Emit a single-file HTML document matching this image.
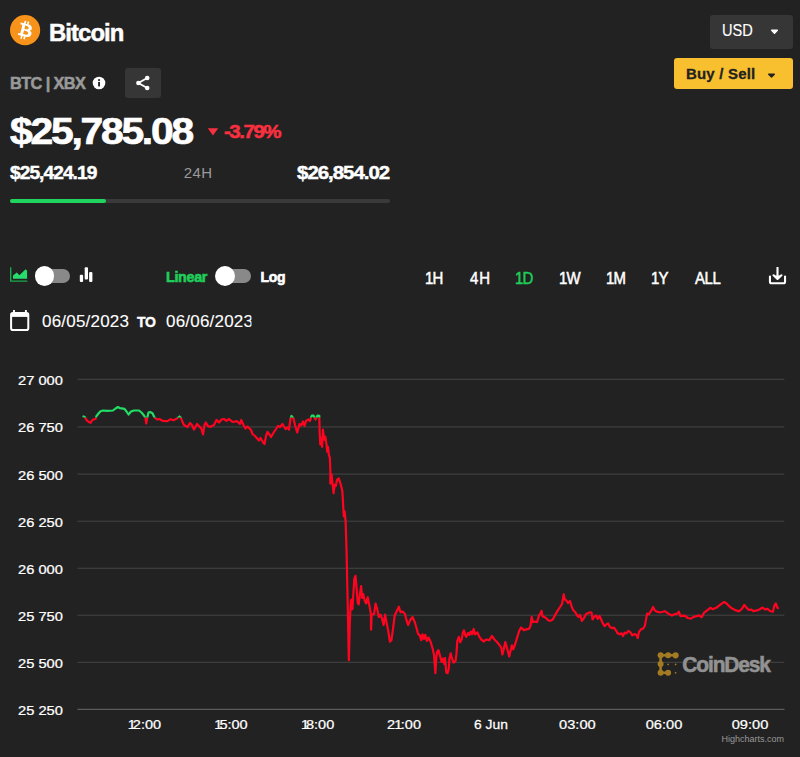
<!DOCTYPE html>
<html><head><meta charset="utf-8"><title>Bitcoin</title>
<style>
html,body{margin:0;padding:0;background:#222;}
body{width:800px;height:757px;position:relative;overflow:hidden;font-family:"Liberation Sans",sans-serif;color:#fff;}
.a{position:absolute;white-space:nowrap;line-height:1;}
.b{font-weight:bold;}
#title{left:48.5px;top:21.5px;font-size:23.5px;letter-spacing:-0.9px;-webkit-text-stroke:0.5px #fff;transform-origin:0 0;transform:scaleX(1.015);}
#sym{left:9.5px;top:75.5px;font-size:16px;color:#999;letter-spacing:-0.6px;-webkit-text-stroke:0.5px #999;transform-origin:0 0;transform:scaleX(1.02);}
#share{left:125px;top:67.7px;width:36.2px;height:30.5px;background:#363636;border-radius:3px;}
#price{left:9.5px;top:114.1px;font-size:36.5px;letter-spacing:-2px;-webkit-text-stroke:0.7px #fff;transform-origin:0 0;transform:scaleX(1.118);}
#pct{left:224px;top:122.5px;font-size:18px;color:#f9303f;letter-spacing:-1.3px;-webkit-text-stroke:0.5px #f9303f;transform-origin:0 0;transform:scaleX(1.14);}
#low{left:10px;top:163.8px;font-size:18px;letter-spacing:-0.9px;-webkit-text-stroke:0.45px #fff;transform-origin:0 0;transform:scaleX(1.065);}
#high{right:411px;top:163.8px;font-size:18px;letter-spacing:-0.9px;-webkit-text-stroke:0.45px #fff;transform-origin:100% 0;transform:scaleX(1.135);}
#h24{left:183.7px;top:165px;font-size:15px;color:#999;letter-spacing:0.4px;}
#track{left:10px;top:198.8px;width:380px;height:4px;border-radius:2px;background:#3a3a3a;}
#fill{left:10px;top:198.7px;width:96px;height:4.2px;border-radius:2.1px;background:#20d45e;}
#usd{left:710.4px;top:14.5px;width:82.9px;height:34.1px;background:#363636;border-radius:3px;}
#usd span{left:11.6px;top:7.7px;font-size:16.5px;-webkit-text-stroke:0.15px #fff;transform-origin:0 0;transform:scaleX(0.885);}
#buy{left:674px;top:58px;width:119px;height:31px;background:#f8bf2e;border-radius:3px;color:#222;}
#buy span{left:11.9px;top:8px;font-size:15px;letter-spacing:0.2px;-webkit-text-stroke:0.3px #222;}
.tg{height:13.6px;border-radius:7px;background:#898989;}
.kn{width:19.9px;height:19.9px;border-radius:10px;background:#fff;}
#lin{left:166px;top:270.2px;font-size:14px;color:#1fce5a;letter-spacing:-0.3px;-webkit-text-stroke:0.6px #1fce5a;transform-origin:0 0;transform:scaleX(1.02);}
#log{left:260.6px;top:270.2px;font-size:14px;letter-spacing:-0.4px;-webkit-text-stroke:0.6px #fff;}
.rg{top:270.7px;font-size:16px;letter-spacing:-1px;-webkit-text-stroke:0.5px currentColor;transform-origin:0 0;transform:scaleX(0.935);}
.dt{top:313px;font-size:16.5px;letter-spacing:0.2px;-webkit-text-stroke:0.1px #fff;transform-origin:0 0;transform:scaleX(1.03);}
#to{left:137px;top:314.5px;font-size:14px;letter-spacing:-0.2px;-webkit-text-stroke:0.4px #fff;}
</style></head><body>
<svg class="a" style="left:10.4px;top:15.4px" width="30.2" height="30.2" viewBox="0 0 32 32"><circle cx="16" cy="16" r="16" fill="#f7931a"/><path fill="#fff" d="M23.19 14.02c.31-2.1-1.28-3.22-3.47-3.97l.71-2.85-1.73-.43-.69 2.77c-.46-.11-.92-.22-1.39-.32l.7-2.79-1.73-.43-.71 2.84c-.38-.09-.75-.17-1.1-.26l-2.39-.6-.46 1.85s1.28.29 1.26.31c.7.18.83.64.8 1.01l-.81 3.24c.05.01.11.03.18.06l-.18-.05-1.13 4.55c-.09.21-.31.53-.79.41.02.03-1.26-.31-1.26-.31l-.86 1.98 2.26.56c.42.11.83.22 1.23.32l-.72 2.88 1.73.43.71-2.85c.47.13.93.25 1.38.36l-.71 2.84 1.73.43.72-2.87c2.95.56 5.17.33 6.1-2.34.75-2.15-.04-3.39-1.59-4.2 1.13-.26 1.98-1 2.21-2.54zm-3.96 5.55c-.53 2.15-4.15.99-5.32.7l.95-3.81c1.17.29 4.93.87 4.37 3.11zm.54-5.58c-.49 1.95-3.5.96-4.47.72l.86-3.45c.97.24 4.12.69 3.61 2.73z"/></svg>
<div id="title" class="a b">Bitcoin</div>
<div id="sym" class="a b">BTC | XBX</div>
<svg class="a" style="left:92px;top:76px" width="14" height="14" viewBox="0 0 14 14"><circle cx="7" cy="7" r="6.3" fill="#fff"/><rect x="6.1" y="6" width="1.9" height="4.4" fill="#222"/><circle cx="7.05" cy="4.1" r="1.1" fill="#222"/></svg>
<div id="share" class="a"><svg class="a" style="left:10px;top:7px" width="16" height="16" viewBox="0 0 16 16"><g fill="#fff"><circle cx="12.2" cy="3" r="2.3"/><circle cx="3.4" cy="8" r="2.3"/><circle cx="12.2" cy="13" r="2.3"/></g><path d="M12.2 3 3.4 8 12.2 13" stroke="#fff" stroke-width="1.8" fill="none"/></svg></div>
<div id="price" class="a b">$25,785.08</div>
<svg class="a" style="left:207px;top:128px" width="12" height="8" viewBox="0 0 12 8"><path d="M0.8 0.3h10.4L6 7.6z" fill="#f9303f"/></svg>
<div id="pct" class="a b">-3.79%</div>
<div id="low" class="a b">$25,424.19</div>
<div id="h24" class="a">24H</div>
<div id="high" class="a b">$26,854.02</div>
<div id="track" class="a"></div><div id="fill" class="a"></div>
<div id="usd" class="a"><span class="a">USD</span><svg class="a" style="left:59.4px;top:14.9px" width="9" height="6" viewBox="0 0 9 6"><path d="M1.7 1.3h5.6L4.5 4.1z" fill="#fff" stroke="#fff" stroke-width="1.5" stroke-linejoin="round"/></svg></div>
<div id="buy" class="a"><span class="a b">Buy / Sell</span><svg class="a" style="left:92.5px;top:14.7px" width="9" height="6" viewBox="0 0 9 6"><path d="M1.7 1.2h5.6L4.5 4z" fill="#222" stroke="#222" stroke-width="1.4" stroke-linejoin="round"/></svg></div>

<svg class="a" style="left:9px;top:266px" width="20" height="17" viewBox="0 0 20 17"><path d="M1.7 1.2v13.9h16.6" stroke="#1aa84b" stroke-width="1.4" fill="none"/><path d="M4 12.8V9.4l3.8-2.8 2.6 2.6 6.2-5.9 1.5 1.4v8.1z" fill="#27dc6c"/></svg>
<div class="a tg" style="left:37px;top:269px;width:33px"></div><div class="a kn" style="left:34.5px;top:265.7px"></div>
<svg class="a" style="left:79px;top:266px" width="15" height="17" viewBox="0 0 15 17"><g fill="#fff"><rect x="0.8" y="8.8" width="3.3" height="7.1" rx="1"/><rect x="5.7" y="1.3" width="3.3" height="12.3" rx="1"/><rect x="10.1" y="6" width="3.3" height="9.9" rx="1"/></g></svg>
<div id="lin" class="a b">Linear</div>
<div class="a tg" style="left:218px;top:269px;width:33px"></div><div class="a kn" style="left:214.7px;top:265.7px"></div>
<div id="log" class="a b">Log</div>
<div class="a rg" style="left:425px">1H</div>
<div class="a rg" style="left:469.6px;letter-spacing:1px">4H</div>
<div class="a rg" style="left:514.8px;color:#1fce5a">1D</div>
<div class="a rg" style="left:559px">1W</div>
<div class="a rg" style="left:605.5px">1M</div>
<div class="a rg" style="left:650.5px">1Y</div>
<div class="a rg" style="left:695.2px;letter-spacing:-0.4px">ALL</div>
<svg class="a" style="left:768px;top:267px" width="19" height="19" viewBox="0 0 19 19"><path d="M9.5 0.4v10.6M5.6 8.3l3.9 3.6 3.9-3.6M1.95 9.6v5.2a1.5 1.5 0 0 0 1.5 1.5h12.1a1.5 1.5 0 0 0 1.5-1.5v-5.2" stroke="#fff" stroke-width="2.1" fill="none" stroke-linecap="round" stroke-linejoin="round"/><path d="M6 8.6h7L9.5 11.8z" fill="#fff"/></svg>
<svg class="a" style="left:9px;top:309px" width="22" height="23" viewBox="0 0 22 23"><rect x="2.1" y="4" width="17.2" height="17" rx="1.8" stroke="#fff" stroke-width="2" fill="none"/><path d="M5 1v4M16.9 1v4" stroke="#fff" stroke-width="1.9" fill="none"/><rect x="2.1" y="4" width="17.2" height="3.9" fill="#fff"/></svg>
<div class="a dt" style="left:42px">06/05/2023</div>
<div id="to" class="a b">TO</div>
<div class="a dt" style="left:165.5px;width:83.1px;overflow:hidden">06/06/2023</div>

<svg class="a" style="left:0;top:360px" width="800" height="397" viewBox="0 360 800 397">
<defs><clipPath id="up"><rect x="0" y="360" width="800" height="57.6"/></clipPath><clipPath id="dn"><rect x="0" y="417.6" width="800" height="340"/></clipPath></defs>
<g stroke="#454545" stroke-width="1">
<path d="M77.5 379.3H784.3M77.5 426.95H784.3M77.5 474.1H784.3M77.5 521.2H784.3M77.5 568.25H784.3M77.5 615.2H784.3M77.5 662.3H784.3"/></g>
<path d="M77.5 709.4H784.5" stroke="#5c5c5c" stroke-width="1.1"/>
<g font-family="Liberation Sans, sans-serif" font-size="13.2" fill="#fff" stroke="#fff" stroke-width="0.25" text-anchor="end" transform="translate(62.9 0) scale(1.11 1)">
<text x="0" y="384.75">27 000</text><text x="0" y="432.40">26 750</text><text x="0" y="479.55">26 500</text><text x="0" y="526.65">26 250</text><text x="0" y="573.70">26 000</text><text x="0" y="620.65">25 750</text><text x="0" y="667.75">25 500</text><text x="0" y="714.85">25 250</text></g>
<g font-family="Liberation Sans, sans-serif" font-size="13.2" fill="#fff" stroke="#fff" stroke-width="0.25" text-anchor="middle">
<text x="0" y="729.25" transform="translate(144.4 0) scale(1.1 1)" dx="0 -2.7 0 0 0">12:00</text><text x="0" y="729.25" transform="translate(231 0) scale(1.1 1)" dx="0 -2.7 0 0 0">15:00</text><text x="0" y="729.25" transform="translate(317.6 0) scale(1.1 1)" dx="0 -2.7 0 0 0">18:00</text><text x="0" y="729.25" transform="translate(404 0) scale(1.1 1)" dx="0 -0.7 -1.5 0 0">21:00</text><text x="0" y="729.25" transform="translate(491 0) scale(1.05 1)">6 Jun</text><text x="0" y="729.25" transform="translate(577.4 0) scale(1.11 1)">03:00</text><text x="0" y="729.25" transform="translate(664 0) scale(1.11 1)">06:00</text><text x="0" y="729.25" transform="translate(750 0) scale(1.11 1)">09:00</text></g>
<text x="784" y="742" font-family="Liberation Sans, sans-serif" font-size="9" fill="#999" text-anchor="end">Highcharts.com</text>
<g id="cd"><g fill="#a27b22" stroke="#a27b22">
<path d="M675.6 655.3H660.6V672.8H668.1" stroke-width="2.6" fill="none"/>
<g stroke="none"><circle cx="660.6" cy="655.3" r="3"/><circle cx="668.1" cy="655.3" r="3"/><circle cx="675.6" cy="655.3" r="3.1"/><circle cx="660.6" cy="664.1" r="3"/><circle cx="660.6" cy="672.8" r="3"/><circle cx="668.1" cy="672.8" r="3"/><circle cx="668.1" cy="664.4" r="0.9"/><circle cx="675.6" cy="664.4" r="0.9"/><circle cx="675.6" cy="672.8" r="0.9"/></g></g>
<text x="0" y="672" transform="translate(682.3 0) scale(0.93 1)" font-family="Liberation Sans, sans-serif" font-weight="bold" font-size="22.5" fill="#929292" stroke="#929292" stroke-width="0.6" letter-spacing="-1.2">CoinDesk</text></g>
<g fill="none" stroke-width="2.2" stroke-linejoin="round" stroke-linecap="round">
<path clip-path="url(#dn)" stroke="#ff0420" d="M83.5 416.5 L85 417.2 L86.5 420 L88.5 421.8 L90.5 422.8 L92 420.5 L93.5 419.3 L95.5 419 L96.5 416 L98.5 413.5 L100.5 411.2 L103 410.5 L107 410.8 L113 410.5 L115.5 408.5 L118 407 L120 408.2 L124.5 408.8 L126.5 411.5 L128.5 414.5 L131 411.5 L134 410.5 L139 410.5 L141.5 412.5 L144 415.5 L145.5 418 L146.2 423.5 L147.2 418 L148.5 412.5 L150 412 L152.5 413.3 L154.5 417.5 L157 419.5 L159.5 419 L163 421 L167.5 421.2 L170.5 419.2 L173.5 420.2 L177 418.5 L179.5 416.5 L181 417.8 L182.5 422 L184 425 L187.5 427 L190 423 L192 425 L194 429.5 L197 424 L199.5 426.5 L201.5 429 L203 434.5 L204.5 425 L205.8 422.5 L207.5 425.5 L210 427 L214 425 L216.5 420 L219 422.5 L221.5 419.5 L224 419 L226.5 420.8 L229 419 L232.5 422 L237 421.2 L240 424 L241.2 420 L243.5 425 L245.5 428.5 L247.5 426.5 L251 430 L252.5 434 L255 436 L259 440.5 L260.5 438 L263.5 443 L264.5 444 L266 436 L267.5 432 L269.5 434.5 L271 437 L274 432 L278 426 L280 427 L282.5 424 L285.5 429 L287.5 427.5 L289 429.5 L290.5 418.5 L291.5 416 L293.5 418.5 L295 425 L297.2 432.5 L299.5 424 L301 425.5 L303 421.5 L304.5 426 L306 421 L308.5 419.5 L310 421 L311 417.5 L311.8 415.6 L313.6 415.6 L314.4 417.5 L315.5 419.5 L316.6 417.5 L317.4 415.6 L319.3 415.8 L319.7 433.8 L320.3 444.4 L321.3 438.5 L322.1 446.8 L322.9 429.6 L323.9 437.3 L324.5 439.7 L325.3 436.7 L326.5 444.4 L327.2 451.6 L328 446.8 L328.9 455.1 L329.8 457.5 L330.4 471.8 L330.3 483.6 L331.6 474.7 L332.8 486 L333.6 493.1 L334.6 484.8 L335.8 486 L336.9 480.1 L338.7 478.3 L340.5 483.6 L342.3 490.8 L343 502.5 L343.8 516.3 L344.6 511.3 L345.6 521.4 L346.6 552.7 L347.6 600 L348.85 660.2 L349.8 623.4 L350.8 601.2 L351.4 599.6 L352.4 609.1 L353.5 591.7 L354.3 579 L355.5 575.8 L356.6 588.5 L357.7 602.8 L358.7 604.4 L359.8 594.9 L361.1 586.1 L362.2 598 L363.3 594.1 L364.6 600.4 L366.1 603.6 L367.7 597.2 L369.3 605.1 L370.9 613.9 L371.05 629.7 L371.7 614.7 L374.1 613.9 L375.6 603.6 L377.2 609.1 L378.8 617 L380.4 614.7 L382 618.6 L383.6 625 L385.1 614.7 L386.7 623.4 L388.3 631.3 L389.9 641.6 L391.5 640 L393.1 628.1 L394.7 615.4 L397 610.7 L398.9 606.7 L400.5 612.3 L402.6 611.5 L404.95 613.9 L406.5 620.2 L408.1 625 L410.5 619.4 L412.6 617.1 L414.6 621.7 L416.6 628.3 L417.9 633.6 L419.9 635.6 L421.2 640.2 L422.5 634.3 L423.9 638.9 L425.2 634.9 L426.9 640.9 L428.5 637.6 L430.5 641.5 L432.5 648.1 L434 654.7 L435.4 673.2 L436.2 658.7 L437.1 652.1 L438.4 650.1 L440.1 656.1 L441.7 662 L443 658.7 L444.3 664 L445 658 L446.3 672.6 L447.6 673.2 L448.7 669.3 L449.4 658.7 L450.7 653.4 L452 658.7 L453.6 662.7 L455.6 660.7 L456.5 653.4 L457.3 640.9 L458.9 636.9 L460.2 642.2 L461.8 638.9 L462.8 632.9 L463.9 630.3 L465.2 634.9 L466.1 636.9 L468.1 632.9 L469.4 634.9 L470.8 631.6 L472.1 634.3 L473.7 629 L475 634.3 L477.4 632.5 L479.4 636.9 L481.3 639.5 L484 641.5 L486 639.5 L489.3 640.2 L491.9 636 L494.5 639.5 L497.2 642.2 L499.8 645.5 L501.3 647.9 L502.4 654.5 L503.7 649.3 L505.3 642 L507.3 649.3 L509.2 656.5 L510.6 650.6 L511.9 645.3 L513.2 649.3 L515.2 644 L517.2 637.4 L519.2 630.8 L521.1 627.5 L523.8 630.1 L526.4 629.4 L529.1 628.8 L530.6 625.5 L531.7 616.9 L533 622.2 L535 621.5 L537 622.2 L539 615.6 L540.3 613.6 L541.6 610.9 L542.5 616.2 L544.3 616.9 L546.2 618.2 L548.2 620.2 L550.2 620.9 L552.8 619.5 L554.8 615.6 L557.5 610.9 L560.1 607 L562.1 603.7 L563.7 594.4 L564.7 599.1 L566.7 601 L568 603 L570 601 L572 607.6 L573.3 610.3 L575.3 612.3 L577.3 615.6 L578.6 616.9 L579.9 614.9 L581.9 620.9 L583.9 618.2 L585.9 614.3 L588.5 612.9 L590.5 612.3 L591.6 612.9 L592.6 619.5 L594.6 616.2 L596.3 615.6 L597.7 618.9 L599.5 616 L601.2 619.5 L602.5 622.8 L604.5 626.1 L606.5 624.2 L608.2 623.5 L609.8 626.8 L611.8 628.1 L613.8 627.5 L615.8 630.1 L617.7 633.4 L619.7 634.1 L621.7 633.4 L623 636.1 L624.6 632.7 L626.3 633.4 L628.3 630.8 L630.3 632.1 L632.3 635.4 L634.3 634.1 L636.2 634.7 L637.8 638 L638.9 632.1 L640.9 629.4 L642.8 628.8 L644.8 626.1 L646.1 618.9 L647.1 613.6 L648.8 614.3 L650.1 612.3 L651.8 609.6 L653.1 607 L654.7 610.3 L656.7 611.6 L659.4 612.3 L662 612 L664.6 611.2 L666.6 612.3 L669.3 614.3 L671.9 615.6 L674.5 614.3 L677.2 613.6 L678.8 611.6 L680.5 616.2 L682.5 615.6 L685 615.8 L687.9 618 L690.8 618.7 L693.7 616.8 L696.6 616.2 L698.8 615.3 L701.7 617.2 L703.9 612.9 L706.8 610.7 L710.4 607.8 L712.6 609.2 L716.2 607.8 L719.1 605.6 L722.1 603.4 L724.2 602 L726.4 603.4 L729.3 606.3 L732.2 608.5 L735.1 610 L738.8 611.4 L741.7 609.2 L744.3 604.9 L746 607.1 L748.9 610 L751.1 609.5 L753.3 611.1 L756.9 610.4 L759.8 609.2 L762.7 607.5 L764.9 609.5 L767.5 608.9 L770 611 L772.9 611.8 L774.4 605.6 L775.8 603.4 L777.3 607.5 L778 608.1"/>
<path clip-path="url(#up)" stroke="#22dc66" d="M83.5 416.5 L85 417.2 L86.5 420 L88.5 421.8 L90.5 422.8 L92 420.5 L93.5 419.3 L95.5 419 L96.5 416 L98.5 413.5 L100.5 411.2 L103 410.5 L107 410.8 L113 410.5 L115.5 408.5 L118 407 L120 408.2 L124.5 408.8 L126.5 411.5 L128.5 414.5 L131 411.5 L134 410.5 L139 410.5 L141.5 412.5 L144 415.5 L145.5 418 L146.2 423.5 L147.2 418 L148.5 412.5 L150 412 L152.5 413.3 L154.5 417.5 L157 419.5 L159.5 419 L163 421 L167.5 421.2 L170.5 419.2 L173.5 420.2 L177 418.5 L179.5 416.5 L181 417.8 L182.5 422 L184 425 L187.5 427 L190 423 L192 425 L194 429.5 L197 424 L199.5 426.5 L201.5 429 L203 434.5 L204.5 425 L205.8 422.5 L207.5 425.5 L210 427 L214 425 L216.5 420 L219 422.5 L221.5 419.5 L224 419 L226.5 420.8 L229 419 L232.5 422 L237 421.2 L240 424 L241.2 420 L243.5 425 L245.5 428.5 L247.5 426.5 L251 430 L252.5 434 L255 436 L259 440.5 L260.5 438 L263.5 443 L264.5 444 L266 436 L267.5 432 L269.5 434.5 L271 437 L274 432 L278 426 L280 427 L282.5 424 L285.5 429 L287.5 427.5 L289 429.5 L290.5 418.5 L291.5 416 L293.5 418.5 L295 425 L297.2 432.5 L299.5 424 L301 425.5 L303 421.5 L304.5 426 L306 421 L308.5 419.5 L310 421 L311 417.5 L311.8 415.6 L313.6 415.6 L314.4 417.5 L315.5 419.5 L316.6 417.5 L317.4 415.6 L319.3 415.8 L319.7 433.8 L320.3 444.4 L321.3 438.5 L322.1 446.8 L322.9 429.6 L323.9 437.3 L324.5 439.7 L325.3 436.7 L326.5 444.4 L327.2 451.6 L328 446.8 L328.9 455.1 L329.8 457.5 L330.4 471.8 L330.3 483.6 L331.6 474.7 L332.8 486 L333.6 493.1 L334.6 484.8 L335.8 486 L336.9 480.1 L338.7 478.3 L340.5 483.6 L342.3 490.8 L343 502.5 L343.8 516.3 L344.6 511.3 L345.6 521.4 L346.6 552.7 L347.6 600 L348.85 660.2 L349.8 623.4 L350.8 601.2 L351.4 599.6 L352.4 609.1 L353.5 591.7 L354.3 579 L355.5 575.8 L356.6 588.5 L357.7 602.8 L358.7 604.4 L359.8 594.9 L361.1 586.1 L362.2 598 L363.3 594.1 L364.6 600.4 L366.1 603.6 L367.7 597.2 L369.3 605.1 L370.9 613.9 L371.05 629.7 L371.7 614.7 L374.1 613.9 L375.6 603.6 L377.2 609.1 L378.8 617 L380.4 614.7 L382 618.6 L383.6 625 L385.1 614.7 L386.7 623.4 L388.3 631.3 L389.9 641.6 L391.5 640 L393.1 628.1 L394.7 615.4 L397 610.7 L398.9 606.7 L400.5 612.3 L402.6 611.5 L404.95 613.9 L406.5 620.2 L408.1 625 L410.5 619.4 L412.6 617.1 L414.6 621.7 L416.6 628.3 L417.9 633.6 L419.9 635.6 L421.2 640.2 L422.5 634.3 L423.9 638.9 L425.2 634.9 L426.9 640.9 L428.5 637.6 L430.5 641.5 L432.5 648.1 L434 654.7 L435.4 673.2 L436.2 658.7 L437.1 652.1 L438.4 650.1 L440.1 656.1 L441.7 662 L443 658.7 L444.3 664 L445 658 L446.3 672.6 L447.6 673.2 L448.7 669.3 L449.4 658.7 L450.7 653.4 L452 658.7 L453.6 662.7 L455.6 660.7 L456.5 653.4 L457.3 640.9 L458.9 636.9 L460.2 642.2 L461.8 638.9 L462.8 632.9 L463.9 630.3 L465.2 634.9 L466.1 636.9 L468.1 632.9 L469.4 634.9 L470.8 631.6 L472.1 634.3 L473.7 629 L475 634.3 L477.4 632.5 L479.4 636.9 L481.3 639.5 L484 641.5 L486 639.5 L489.3 640.2 L491.9 636 L494.5 639.5 L497.2 642.2 L499.8 645.5 L501.3 647.9 L502.4 654.5 L503.7 649.3 L505.3 642 L507.3 649.3 L509.2 656.5 L510.6 650.6 L511.9 645.3 L513.2 649.3 L515.2 644 L517.2 637.4 L519.2 630.8 L521.1 627.5 L523.8 630.1 L526.4 629.4 L529.1 628.8 L530.6 625.5 L531.7 616.9 L533 622.2 L535 621.5 L537 622.2 L539 615.6 L540.3 613.6 L541.6 610.9 L542.5 616.2 L544.3 616.9 L546.2 618.2 L548.2 620.2 L550.2 620.9 L552.8 619.5 L554.8 615.6 L557.5 610.9 L560.1 607 L562.1 603.7 L563.7 594.4 L564.7 599.1 L566.7 601 L568 603 L570 601 L572 607.6 L573.3 610.3 L575.3 612.3 L577.3 615.6 L578.6 616.9 L579.9 614.9 L581.9 620.9 L583.9 618.2 L585.9 614.3 L588.5 612.9 L590.5 612.3 L591.6 612.9 L592.6 619.5 L594.6 616.2 L596.3 615.6 L597.7 618.9 L599.5 616 L601.2 619.5 L602.5 622.8 L604.5 626.1 L606.5 624.2 L608.2 623.5 L609.8 626.8 L611.8 628.1 L613.8 627.5 L615.8 630.1 L617.7 633.4 L619.7 634.1 L621.7 633.4 L623 636.1 L624.6 632.7 L626.3 633.4 L628.3 630.8 L630.3 632.1 L632.3 635.4 L634.3 634.1 L636.2 634.7 L637.8 638 L638.9 632.1 L640.9 629.4 L642.8 628.8 L644.8 626.1 L646.1 618.9 L647.1 613.6 L648.8 614.3 L650.1 612.3 L651.8 609.6 L653.1 607 L654.7 610.3 L656.7 611.6 L659.4 612.3 L662 612 L664.6 611.2 L666.6 612.3 L669.3 614.3 L671.9 615.6 L674.5 614.3 L677.2 613.6 L678.8 611.6 L680.5 616.2 L682.5 615.6 L685 615.8 L687.9 618 L690.8 618.7 L693.7 616.8 L696.6 616.2 L698.8 615.3 L701.7 617.2 L703.9 612.9 L706.8 610.7 L710.4 607.8 L712.6 609.2 L716.2 607.8 L719.1 605.6 L722.1 603.4 L724.2 602 L726.4 603.4 L729.3 606.3 L732.2 608.5 L735.1 610 L738.8 611.4 L741.7 609.2 L744.3 604.9 L746 607.1 L748.9 610 L751.1 609.5 L753.3 611.1 L756.9 610.4 L759.8 609.2 L762.7 607.5 L764.9 609.5 L767.5 608.9 L770 611 L772.9 611.8 L774.4 605.6 L775.8 603.4 L777.3 607.5 L778 608.1"/>
</g>
</svg>
</body></html>
